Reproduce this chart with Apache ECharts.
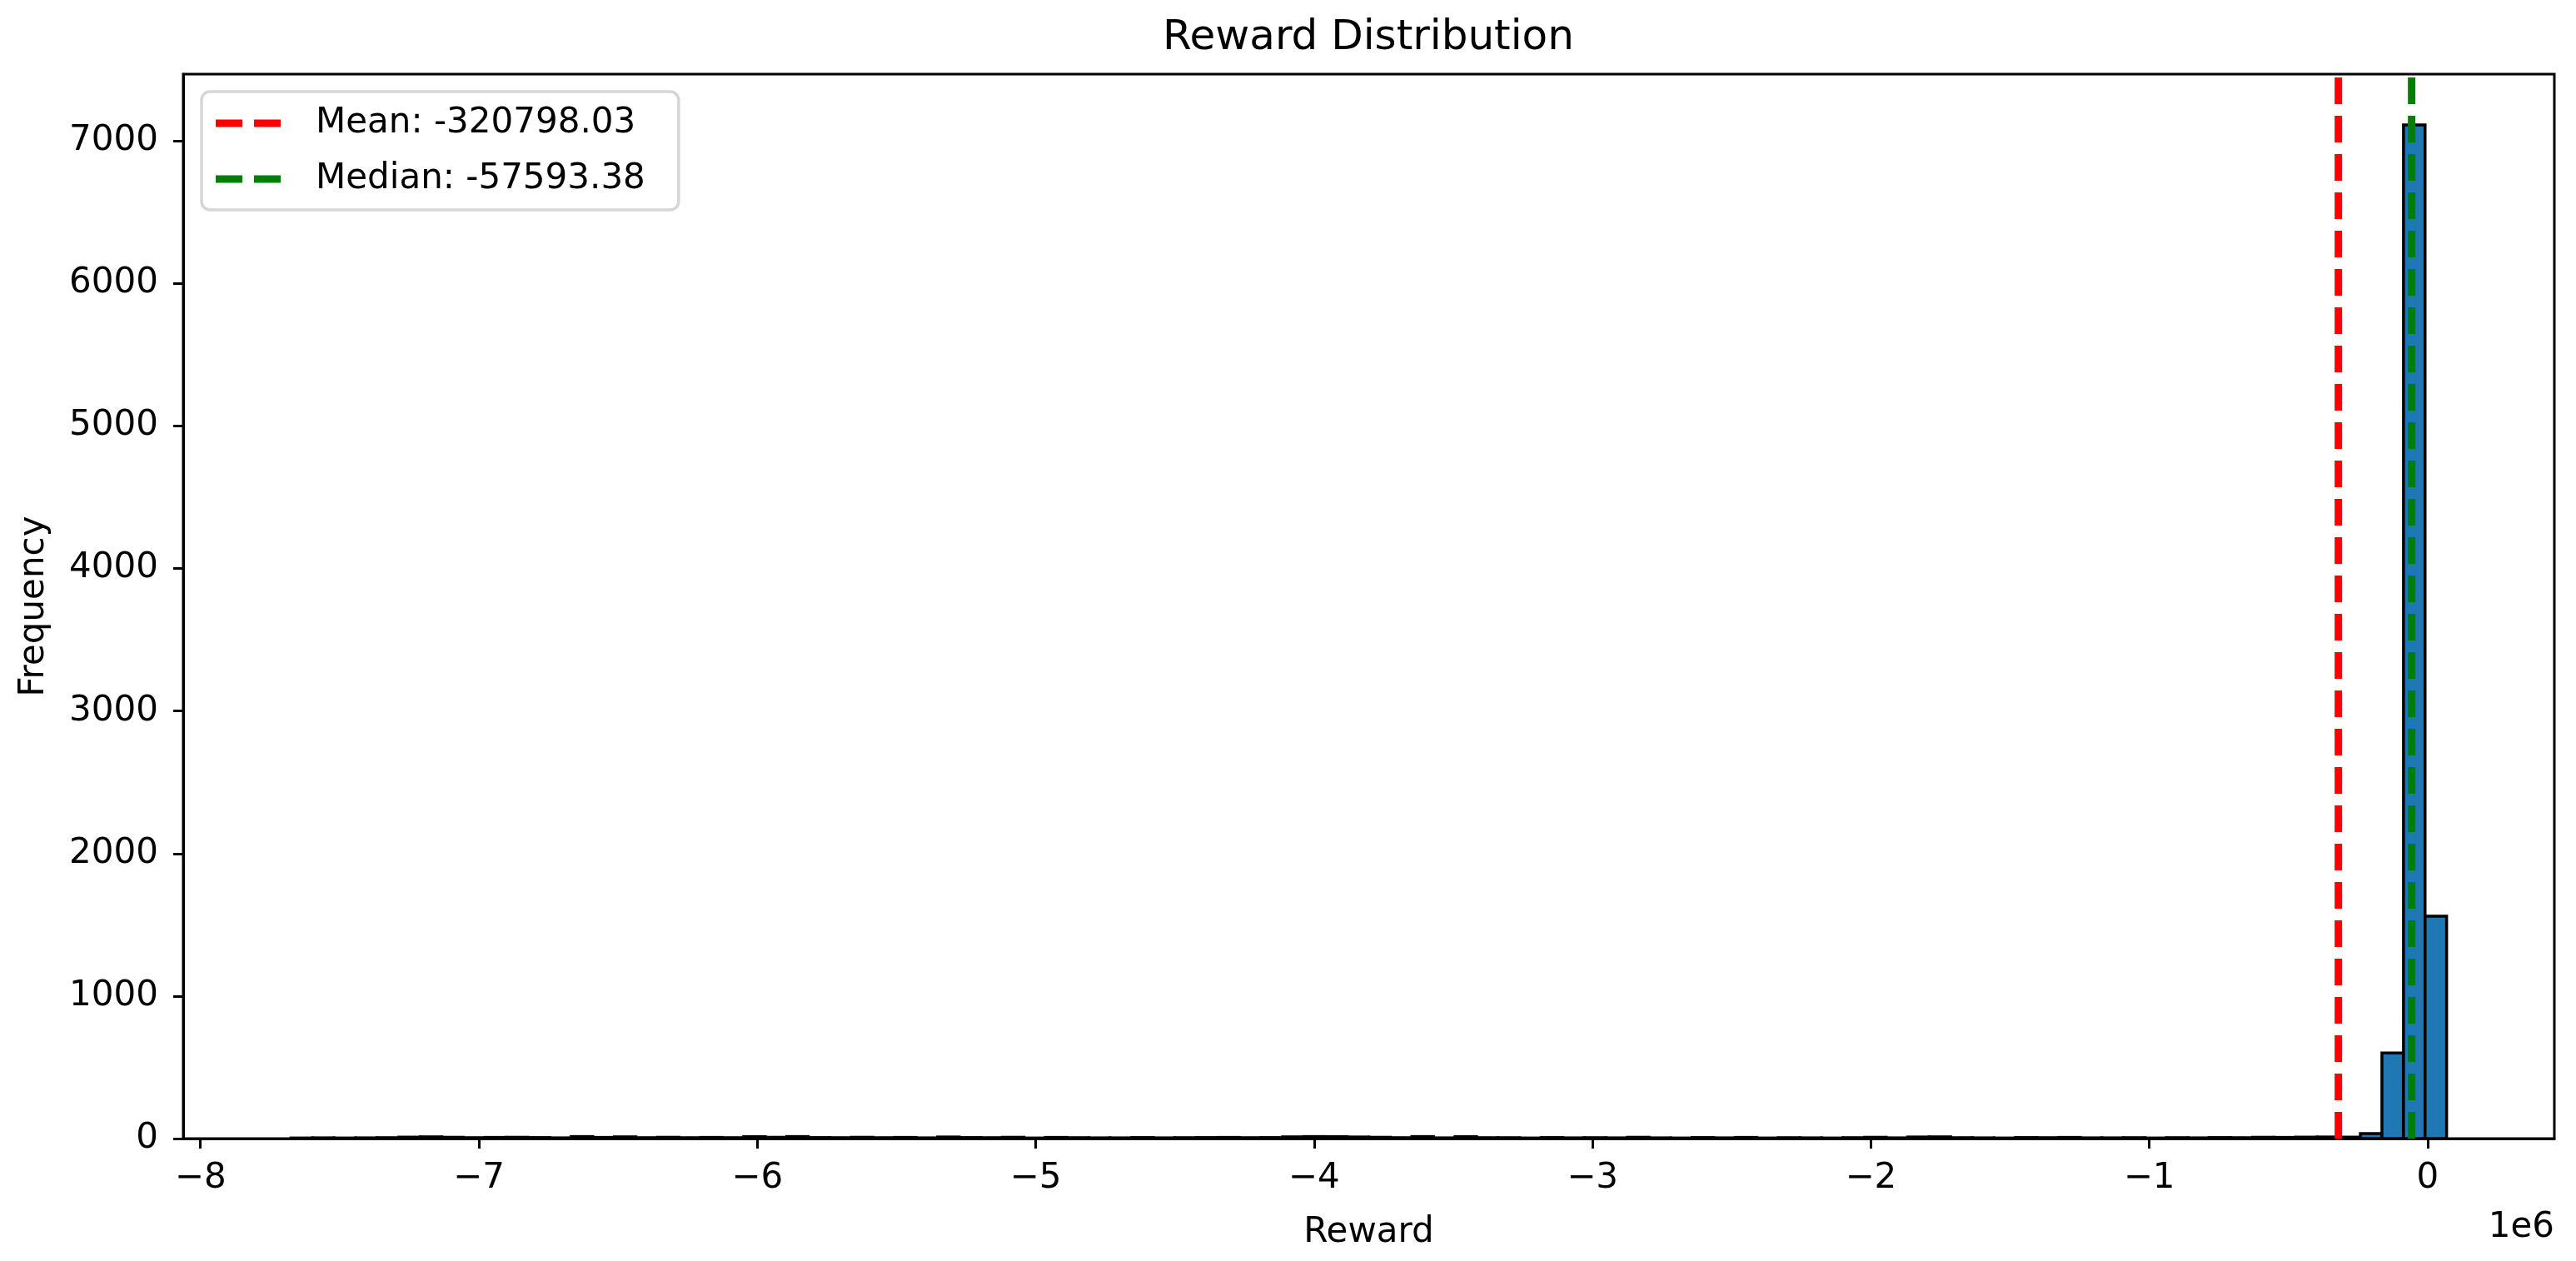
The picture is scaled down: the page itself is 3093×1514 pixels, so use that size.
<!DOCTYPE html>
<html>
<head>
<meta charset="utf-8">
<title>Reward Distribution</title>
<script src="https://cdn.jsdelivr.net/npm/echarts@6/dist/echarts.min.js"></script>
<style>
  html, body { margin: 0; padding: 0; background: #fff; }
  #chart { width: 3093px; height: 1514px; }
</style>
</head>
<body>
<div id="chart"></div>
<script>
// histogram: 100 bins, first edge and bin width
const binStart = -7675000
const binWidth = 77430
const counts = [
  4, 5, 4, 5, 6, 10, 12, 9, 6, 8,
  9, 7, 5, 14, 8, 12, 6, 9, 6, 8,
  6, 13, 9, 14, 7, 6, 9, 6, 8, 5,
  11, 7, 6, 9, 4, 8, 6, 5, 5, 7,
  5, 6, 7, 8, 6, 7, 12, 14, 13, 11,
  9, 6, 14, 5, 13, 6, 6, 4, 7, 5,
  6, 5, 9, 5, 4, 7, 5, 8, 4, 6,
  5, 4, 6, 9, 5, 11, 12, 6, 5, 4,
  7, 6, 8, 5, 5, 6, 4, 6, 5, 7,
  6, 9, 8, 10, 11, 10, 35, 600, 7113, 1560
]
const meanValue = -320798.03
const medianValue = -57593.38
const xTicks = [-8e6, -7e6, -6e6, -5e6, -4e6, -3e6, -2e6, -1e6, 0]
const yTicks = [0, 1000, 2000, 3000, 4000, 5000, 6000, 7000]

const font = 'DejaVu Sans'
const yMax = 7469

const histData = counts.map((c, i) => [binStart + i * binWidth, binStart + (i + 1) * binWidth, c])

const chart = echarts.init(document.getElementById('chart'))

const renderBar = (params, api) => {
  const p0 = api.coord([api.value(0), api.value(2)])
  const p1 = api.coord([api.value(1), 0])
  return {
    type: 'rect',
    shape: { x: p0[0], y: p0[1], width: p1[0] - p0[0], height: p1[1] - p0[1] },
    style: { fill: '#1f77b4', stroke: '#000', lineWidth: 3.5 }
  }
}

// two dashes, like the matplotlib legend handle
const dashIcon = 'path://M0,0H32V9H0Z M46,0H78V9H46Z'

chart.setOption({
  animation: false,
  backgroundColor: '#fff',
  textStyle: { fontFamily: font },
  grid: {
    left: 220, right: 26, top: 89, bottom: 147,
    show: true, borderColor: '#000', borderWidth: 3, backgroundColor: 'transparent'
  },
  legend: {
    orient: 'vertical',
    left: 242, top: 110,
    padding: [14, 40, 13, 17],
    itemWidth: 78, itemHeight: 9,
    itemGap: 19,
    backgroundColor: 'rgba(255,255,255,0.8)',
    borderColor: 'rgba(204,204,204,0.8)',
    borderWidth: 3.5,
    borderRadius: 10,
    textStyle: { fontSize: 42, color: '#000', fontFamily: font, lineHeight: 48, padding: [0, 0, 0, 37] },
    data: [
      { name: 'Mean: -320798.03', icon: dashIcon, itemStyle: { color: '#ff0000' } },
      { name: 'Median: -57593.38', icon: dashIcon, itemStyle: { color: '#008000' } }
    ]
  },
  xAxis: {
    type: 'value',
    min: -8062000, max: 455000,
    name: 'Reward', nameLocation: 'middle', nameGap: 92,
    nameTextStyle: { fontSize: 42, color: '#000', fontFamily: font },
    axisLine: { show: true, onZero: false, lineStyle: { color: '#000', width: 3 } },
    axisTick: { show: true, length: 12, lineStyle: { color: '#000', width: 3 }, customValues: xTicks },
    axisLabel: {
      fontSize: 42, color: '#000', margin: 27, customValues: xTicks,
      formatter: v => {
        const n = Math.round(v / 1e6)
        return n < 0 ? '\u2212' + Math.abs(n) : String(n)
      }
    },
    splitLine: { show: false }
  },
  yAxis: {
    type: 'value',
    min: 0, max: yMax,
    name: 'Frequency', nameLocation: 'middle', nameGap: 158,
    nameTextStyle: { fontSize: 42, color: '#000', fontFamily: font },
    axisLine: { show: true, onZero: false, lineStyle: { color: '#000', width: 3 } },
    axisTick: { show: true, length: 12, lineStyle: { color: '#000', width: 3 }, customValues: yTicks },
    axisLabel: { fontSize: 42, color: '#000', margin: 30, customValues: yTicks, formatter: v => String(v) },
    splitLine: { show: false }
  },
  graphic: [
    { type: 'text', x: 1643, y: 46, style: { text: 'Reward Distribution', fontSize: 50, fontFamily: font, fill: '#000', textAlign: 'center', textVerticalAlign: 'middle' } },
    { type: 'text', x: 3067, y: 1474, style: { text: '1e6', fontSize: 42, fontFamily: font, fill: '#000', textAlign: 'right', textVerticalAlign: 'middle' } }
  ],
  series: [
    {
      name: 'hist',
      type: 'custom',
      renderItem: renderBar,
      encode: { x: [0, 1], y: 2 },
      data: histData,
      z: 2
    },
    {
      name: 'Mean: -320798.03',
      type: 'line',
      data: [[meanValue, 0], [meanValue, yMax]],
      symbol: 'none',
      color: '#ff0000',
      lineStyle: { color: '#ff0000', width: 9, type: [32, 14] },
      z: 3
    },
    {
      name: 'Median: -57593.38',
      type: 'line',
      data: [[medianValue, 0], [medianValue, yMax]],
      symbol: 'none',
      color: '#008000',
      lineStyle: { color: '#008000', width: 9, type: [32, 14] },
      z: 4
    }
  ]
})

window.addEventListener('resize', () => chart.resize())
</script>
</body>
</html>
